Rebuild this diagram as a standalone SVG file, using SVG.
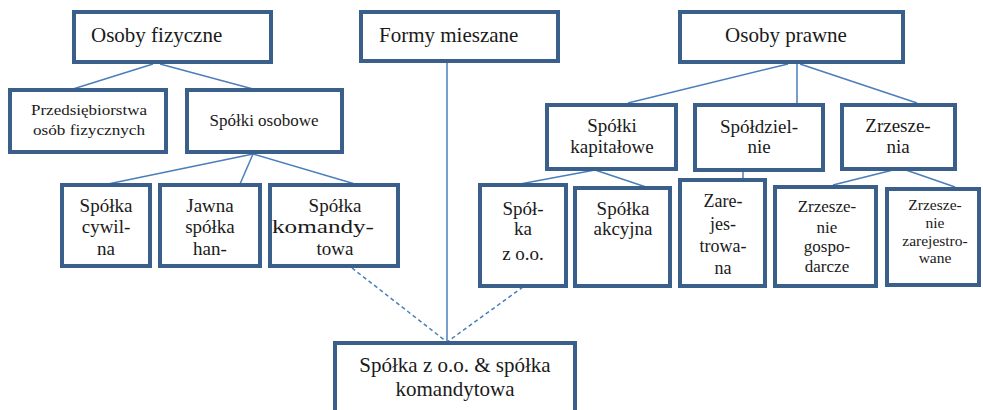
<svg xmlns="http://www.w3.org/2000/svg" width="983" height="410" viewBox="0 0 983 410">
  <style>
    .box { fill: #ffffff; stroke: #3a5f8b; stroke-width: 4; }
    .lnk { fill: none; stroke: #4a7ebb; stroke-width: 1.5; }
    .dash { stroke-dasharray: 4 3; }
    text { font-family: "Times New Roman", Times, "Liberation Serif", "Nimbus Roman", "Noto Serif", "DejaVu Serif", FreeSerif, serif; fill: #1a1a1a; }
    .t21 { font-size: 21px; }
    .t19 { font-size: 19px; text-anchor: middle; }
    .t18 { font-size: 18px; text-anchor: middle; }
    .t17 { font-size: 17px; text-anchor: middle; }
    .t15 { font-size: 15.5px; text-anchor: middle; }
    .mid { text-anchor: middle; }
  </style>
  <rect width="983" height="410" fill="#ffffff"/>

  <!-- connectors -->
  <g id="connectors">
    <line class="lnk" x1="153" y1="64" x2="73" y2="89"/>
    <line class="lnk" x1="160" y1="64" x2="253" y2="89"/>
    <line class="lnk" x1="447" y1="63" x2="447" y2="342"/>
    <line class="lnk" x1="788" y1="64" x2="628" y2="103"/>
    <line class="lnk" x1="797" y1="64" x2="797" y2="103"/>
    <line class="lnk" x1="800" y1="64" x2="917" y2="103"/>
    <line class="lnk" x1="253" y1="154" x2="108" y2="184"/>
    <line class="lnk" x1="253" y1="154" x2="240" y2="184"/>
    <line class="lnk" x1="253" y1="154" x2="355" y2="184"/>
    <line class="lnk" x1="595" y1="170" x2="520" y2="184"/>
    <line class="lnk" x1="595" y1="170" x2="646" y2="187"/>
    <line class="lnk" x1="743" y1="171" x2="743" y2="179"/>
    <line class="lnk" x1="897" y1="169" x2="833" y2="185"/>
    <line class="lnk" x1="903" y1="169" x2="955" y2="187"/>
    <line class="lnk dash" x1="352" y1="268" x2="447" y2="342"/>
    <line class="lnk dash" x1="523" y1="287" x2="447" y2="342"/>
  </g>

  <!-- top row -->
  <g id="osoby-fizyczne">
    <rect class="box" x="74" y="12" width="197" height="50"/>
    <text class="t21" x="91" y="42">Osoby fizyczne</text>
  </g>
  <g id="formy-mieszane">
    <rect class="box" x="361" y="12" width="197" height="49"/>
    <text class="t21" x="379" y="42">Formy mieszane</text>
  </g>
  <g id="osoby-prawne">
    <rect class="box" x="680" y="12" width="223" height="50"/>
    <text class="t21 mid" x="786" y="42">Osoby prawne</text>
  </g>

  <!-- second row -->
  <g id="przedsiebiorstwa">
    <rect class="box" x="10" y="90" width="156" height="62"/>
    <text class="t15" x="89" y="115" textLength="116" lengthAdjust="spacingAndGlyphs">Przedsiębiorstwa</text>
    <text class="t15" x="89" y="135" textLength="112" lengthAdjust="spacingAndGlyphs">osób fizycznych</text>
  </g>
  <g id="spolki-osobowe">
    <rect class="box" x="187" y="90" width="155" height="62"/>
    <text class="t17" x="264" y="126">Spółki osobowe</text>
  </g>
  <g id="spolki-kapitalowe">
    <rect class="box" x="547" y="105" width="129" height="64"/>
    <text class="t19" x="612" y="132">Spółki</text>
    <text class="t19" x="612" y="153">kapitałowe</text>
  </g>
  <g id="spoldzielnie">
    <rect class="box" x="695" y="105" width="128" height="65"/>
    <text class="t19" x="759" y="133">Spółdziel-</text>
    <text class="t19" x="759" y="153">nie</text>
  </g>
  <g id="zrzeszenia">
    <rect class="box" x="842" y="105" width="113" height="64"/>
    <text class="t19" x="898" y="132">Zrzesze-</text>
    <text class="t19" x="898" y="153">nia</text>
  </g>

  <!-- third row, left -->
  <g id="spolka-cywilna">
    <rect class="box" x="62" y="185" width="88" height="81"/>
    <text class="t19" x="106" y="212">Spółka</text>
    <text class="t19" x="106" y="233">cywil-</text>
    <text class="t19" x="106" y="255">na</text>
  </g>
  <g id="jawna-spolka">
    <rect class="box" x="160" y="185" width="100" height="81"/>
    <text class="t19" x="210" y="212">Jawna</text>
    <text class="t19" x="210" y="233">spółka</text>
    <text class="t19" x="210" y="255">han-</text>
  </g>
  <g id="spolka-komandytowa">
    <rect class="box" x="270" y="185" width="128" height="81"/>
    <text class="t19" x="335" y="212">Spółka</text>
    <text class="t19" x="323" y="233" textLength="102" lengthAdjust="spacingAndGlyphs">komandy-</text>
    <text class="t19" x="335" y="255">towa</text>
  </g>

  <!-- third row, right -->
  <g id="spolka-zoo">
    <rect class="box" x="480" y="185" width="86" height="101"/>
    <text class="t19" x="523" y="215">Spół-</text>
    <text class="t19" x="523" y="235">ka</text>
    <text class="t19" x="523" y="260">z o.o.</text>
  </g>
  <g id="spolka-akcyjna">
    <rect class="box" x="575" y="188" width="95" height="98"/>
    <text class="t19" x="623" y="215">Spółka</text>
    <text class="t19" x="623" y="235">akcyjna</text>
  </g>
  <g id="zarejestrowana">
    <rect class="box" x="680" y="180" width="85" height="106"/>
    <text class="t18" x="723" y="207">Zare-</text>
    <text class="t18" x="723" y="230">jes-</text>
    <text class="t18" x="723" y="252">trowa-</text>
    <text class="t18" x="723" y="274">na</text>
  </g>
  <g id="zrzeszenie-gospodarcze">
    <rect class="box" x="775" y="187" width="101" height="99"/>
    <text class="t17" x="827" y="212">Zrzesze-</text>
    <text class="t17" x="827" y="233">nie</text>
    <text class="t17" x="827" y="252">gospo-</text>
    <text class="t17" x="827" y="272">darcze</text>
  </g>
  <g id="zrzeszenie-zarejestrowane">
    <rect class="box" x="887" y="189" width="92" height="96"/>
    <text class="t15" x="935" y="210">Zrzesze-</text>
    <text class="t15" x="935" y="228">nie</text>
    <text class="t15" x="935" y="246">zarejestro-</text>
    <text class="t15" x="935" y="263">wane</text>
  </g>

  <!-- mixed form -->
  <g id="spolka-zoo-komandytowa">
    <rect class="box" x="335" y="343" width="240" height="72"/>
    <text class="t21 mid" x="455" y="372">Spółka z o.o. &amp; spółka</text>
    <text class="t21 mid" x="455" y="396">komandytowa</text>
  </g>
</svg>
